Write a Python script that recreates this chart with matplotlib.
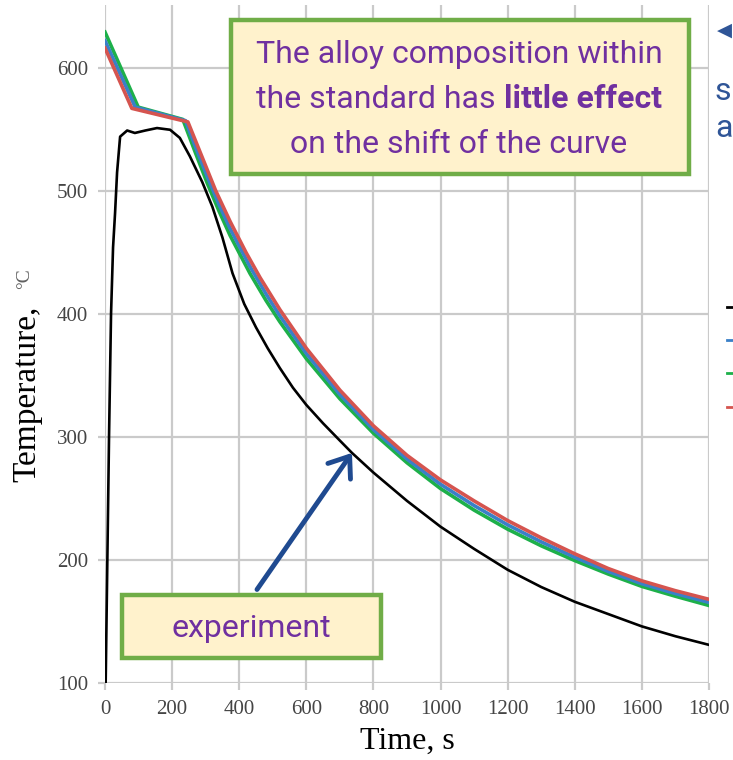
import matplotlib
matplotlib.use("Agg")
import matplotlib.pyplot as plt
from matplotlib.patches import Rectangle
from matplotlib.lines import Line2D

# Experiment (black) - time, s / temperature, C
t_exp = [2, 7, 12, 18, 24, 30, 36, 45, 66, 89, 120, 155, 194, 223, 253, 290,
         320, 350, 380, 415, 450, 485, 521, 560, 600, 650, 700, 736, 800, 900,
         1000, 1100, 1200, 1300, 1400, 1500, 1600, 1700, 1800]
T_exp = [100, 200, 300, 400, 454, 482, 515, 544, 549, 547, 549, 551, 549.6,
         543, 528, 507, 487, 462, 433, 408, 389, 372, 356, 340, 326, 311, 297,
         287, 271, 248, 227, 209, 192, 178, 166, 156, 146, 138, 131]

# Calculated curves for three alloy compositions
t_green = [0, 99, 232, 270, 305, 340, 373, 432, 480, 521, 600, 700, 800, 900,
           1000, 1100, 1200, 1300, 1400, 1500, 1600, 1700, 1800]
T_green = [629, 568, 558, 530.6, 506, 483.4, 463.6, 432.9, 410.8, 393.6, 363.6,
           331, 303, 279, 258, 240.5, 225, 211.5, 199.5, 188.5, 178.5, 170.5, 163]

t_blue = [0, 90, 240, 270, 305, 340, 373, 432, 480, 521, 600, 700, 800, 900,
          1000, 1100, 1200, 1300, 1400, 1500, 1600, 1700, 1800]
T_blue = [622, 568, 557, 535.5, 511.5, 488.8, 469.3, 438.5, 416.2, 398.5, 367.8,
          334.5, 306, 282, 261.5, 244.2, 228.5, 214.7, 202.2, 190.7, 180.7, 172.7, 165.5]

t_red = [0, 80, 247, 290, 330, 373, 420, 462, 521, 600, 700, 800, 900, 1000,
         1100, 1200, 1300, 1400, 1500, 1600, 1700, 1800]
T_red = [616, 567, 556, 527, 500, 475, 450, 429.5, 403.5, 372, 338, 309, 285,
         265, 248, 232, 218, 205, 193, 183, 175, 168]

xticks = list(range(0, 1801, 200))
yticks = list(range(100, 601, 100))

W, H = 733, 760
fig = plt.figure(figsize=(W / 100, H / 100), dpi=100)
ax = fig.add_axes([105 / W, (H - 683) / H, (709 - 105) / W, 678 / H])

ax.plot(t_green, T_green, color="#1DB04A", lw=2.6)
ax.plot(t_blue, T_blue, color="#3A80C8", lw=2.6)
ax.plot(t_red, T_red, color="#D5544F", lw=2.6)
ax.plot(t_exp, T_exp, color="black", lw=1.9)

ax.set_xlim(0, 1800)
ax.set_ylim(100, 651)
ax.set_xticks(xticks)
ax.set_yticks(yticks)
ax.grid(True, color="#cacaca", lw=1.6)
ax.set_axisbelow(True)
for s in ax.spines.values():
    s.set_visible(False)
ax.tick_params(colors="#cacaca", width=1.6, length=5, labelcolor="#454545",
               labelsize=15, pad=7)
for lab in ax.get_xticklabels() + ax.get_yticklabels():
    lab.set_family("Liberation Serif")

ax.set_xlabel("Time, s", family="Liberation Serif", fontsize=23, labelpad=6)
fig.text(27 / W, (H - 482) / H, "Temperature,", rotation=90, ha="center",
         va="bottom", family="Liberation Serif", fontsize=24)
fig.text(25 / W, (H - 289) / H, "°C", rotation=90, ha="center", va="bottom",
         family="Liberation Serif", fontsize=14, color="#606060")

# annotation boxes
fill, edge, purple = "#FFF2CC", "#70AD47", "#7030A0"
fig.add_artist(Rectangle((230.5 / W, (H - 173.5) / H), 458 / W, 154 / H,
                         transform=fig.transFigure, facecolor=fill,
                         edgecolor=edge, lw=3.2))
fig.add_artist(Rectangle((122 / W, (H - 658) / H), 259 / W, 63 / H,
                         transform=fig.transFigure, facecolor=fill,
                         edgecolor=edge, lw=3.2))

box_font = dict(family="Roboto", fontsize=23, color=purple)
fig.text(459 / W, (H - 63) / H, "The alloy composition within", ha="center",
         va="baseline", **box_font)
t1 = fig.text(0, (H - 108) / H, "the standard has", ha="left", va="baseline", **box_font)
t2 = fig.text(0, (H - 108) / H, "little effect", ha="left", va="baseline",
              fontweight="bold", **box_font)
fig.text(459 / W, (H - 153) / H, "on the shift of the curve", ha="center",
         va="baseline", **box_font)
fig.text(251 / W, (H - 637) / H, "experiment", ha="center", va="baseline", **box_font)

r = fig.canvas.get_renderer()
w1 = t1.get_window_extent(r).width
w2 = t2.get_window_extent(r).width
gap = 8
x0 = 459 - (w1 + gap + w2) / 2
t1.set_x(x0 / W)
t2.set_x((x0 + w1 + gap) / W)

# arrow to the experiment curve
i = t_exp.index(736)
ax.annotate("", xy=(t_exp[i], T_exp[i]), xytext=(453, 176),
            arrowprops=dict(arrowstyle="->, head_length=0.6, head_width=0.45",
                            color="#1F4A90", lw=3.5, mutation_scale=22,
                            shrinkA=0, shrinkB=0))

# parts of the slide at the right edge
blue = "#2F5597"
fig.text(717 / W, (H - 36) / H, "◀", family="DejaVu Sans", fontsize=14,
         color=blue, va="baseline")
fig.text(715 / W, (H - 100) / H, "s", family="Roboto", fontsize=23, color=blue,
         va="baseline")
fig.text(715 / W, (H - 137) / H, "a", family="Roboto", fontsize=23, color=blue,
         va="baseline")
for y, c in zip([307, 340, 373, 407], ["black", "#3A80C8", "#1DB04A", "#D5544F"]):
    fig.add_artist(Line2D([727 / W, 736 / W], [(H - y) / H] * 2, color=c, lw=2,
                          transform=fig.transFigure))

fig.savefig("out.png", dpi=100)
